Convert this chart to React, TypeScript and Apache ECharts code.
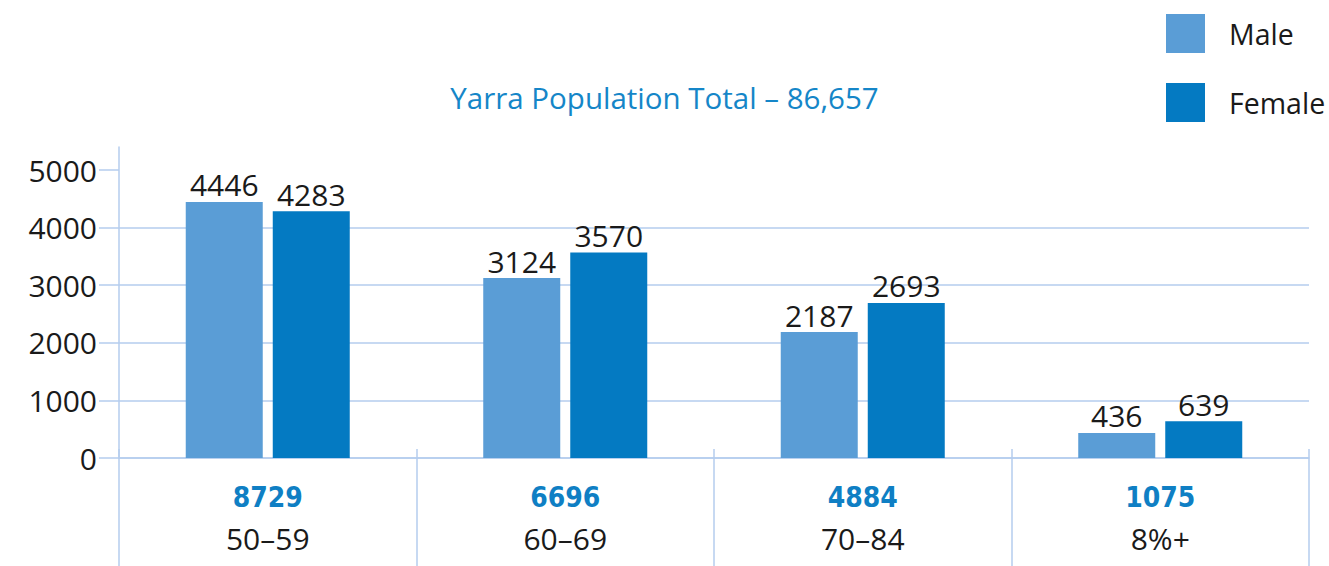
import React, { useEffect, useRef } from "react";
import * as echarts from "echarts";

const ageGroups = ["50–59", "60–69", "70–84", "8%+"];
const groupTotals = [8729, 6696, 4884, 1075];
const maleValues = [4446, 3124, 2187, 436];
const femaleValues = [4283, 3570, 2693, 639];
const yTickValues = [0, 1000, 2000, 3000, 4000, 5000];
const titleText = "Yarra Population Total – 86,657";

const GRID_COLOR = "#b5cdee";
const MALE_COLOR = "#5a9dd6";
const FEMALE_COLOR = "#047ac2";
const TEXT_COLOR = "#1a1a1a";
const FONT = "Open Sans";
const NARROW_FONT = "'Liberation Sans Narrow', 'DejaVu Sans Condensed', 'DejaVu Sans', sans-serif";

export default function App() {
  const ref = useRef<HTMLDivElement>(null);
  useEffect(() => {
    if (!ref.current) return;
    const chart = echarts.init(ref.current, null, { renderer: "svg" });
    const valueLabel = {
      show: true,
      position: "top",
      distance: 2,
      fontSize: 30,
      color: TEXT_COLOR,
      fontFamily: FONT,
    };
    chart.setOption({
      animation: false,
      textStyle: { fontFamily: FONT },
      title: {
        text: titleText,
        left: "center",
        top: 77,
        textStyle: { color: "#1586c8", fontSize: 29.5, fontWeight: "normal", fontFamily: FONT },
      },
      legend: {
        orient: "vertical",
        left: 1166,
        top: 14,
        itemWidth: 39,
        itemHeight: 39,
        itemGap: 30,
        icon: "rect",
        selectedMode: false,
        padding: 0,
        textStyle: { fontSize: 28.5, color: TEXT_COLOR, fontFamily: FONT, padding: [0, 0, 0, 19] },
        data: ["Male", "Female"],
      },
      grid: { left: 119, right: 20, top: 147, bottom: 108 },
      xAxis: [
        {
          type: "category",
          data: ageGroups,
          position: "bottom",
          axisLine: { show: true, lineStyle: { color: GRID_COLOR, width: 1.5 } },
          axisTick: { show: true, length: 120, lineStyle: { color: GRID_COLOR, width: 1.5 } },
          axisLabel: {
            interval: 0,
            margin: 19,
            formatter: (v: string, i: number) => `{a|${groupTotals[i]}}\n{b|${v}}`,
            rich: {
              a: {
                fontFamily: NARROW_FONT,
                fontWeight: "bold",
                fontSize: 28,
                color: "#0f7fc4",
                lineHeight: 40,
                align: "center",
              },
              b: {
                fontFamily: FONT,
                fontSize: 30,
                color: TEXT_COLOR,
                lineHeight: 42,
                align: "center",
              },
            },
          },
          splitLine: { show: false },
        },
        {
          type: "category",
          data: ageGroups,
          position: "bottom",
          axisLine: { show: false },
          axisTick: { show: true, inside: true, length: 9, lineStyle: { color: GRID_COLOR, width: 1.5 } },
          axisLabel: { show: false },
          splitLine: { show: false },
        },
      ],
      yAxis: {
        type: "value",
        min: 0,
        max: 5400,
        interval: 1000,
        axisLine: { show: true, lineStyle: { color: GRID_COLOR, width: 1.5 } },
        axisTick: {
          show: true,
          length: 20,
          customValues: yTickValues,
          lineStyle: { color: GRID_COLOR, width: 1.5 },
        },
        axisLabel: {
          customValues: yTickValues,
          margin: 22,
          fontSize: 30,
          color: TEXT_COLOR,
          fontFamily: FONT,
          formatter: (v: number) => (v > 5000 ? "" : String(v)),
        },
        splitLine: { show: true, showMaxLine: false, lineStyle: { color: GRID_COLOR, width: 1.5 } },
      },
      series: [
        {
          name: "Male",
          type: "bar",
          data: maleValues,
          barWidth: 77,
          barGap: "13%",
          itemStyle: { color: MALE_COLOR },
          label: valueLabel,
        },
        {
          name: "Female",
          type: "bar",
          data: femaleValues,
          barWidth: 77,
          barGap: "13%",
          itemStyle: { color: FEMALE_COLOR },
          label: valueLabel,
        },
      ],
    });
    return () => chart.dispose();
  }, []);
  return (
    <div
      ref={ref}
      style={{ position: "fixed", left: 0, top: 0, width: 1329, height: 566, background: "#fff" }}
    />
  );
}
